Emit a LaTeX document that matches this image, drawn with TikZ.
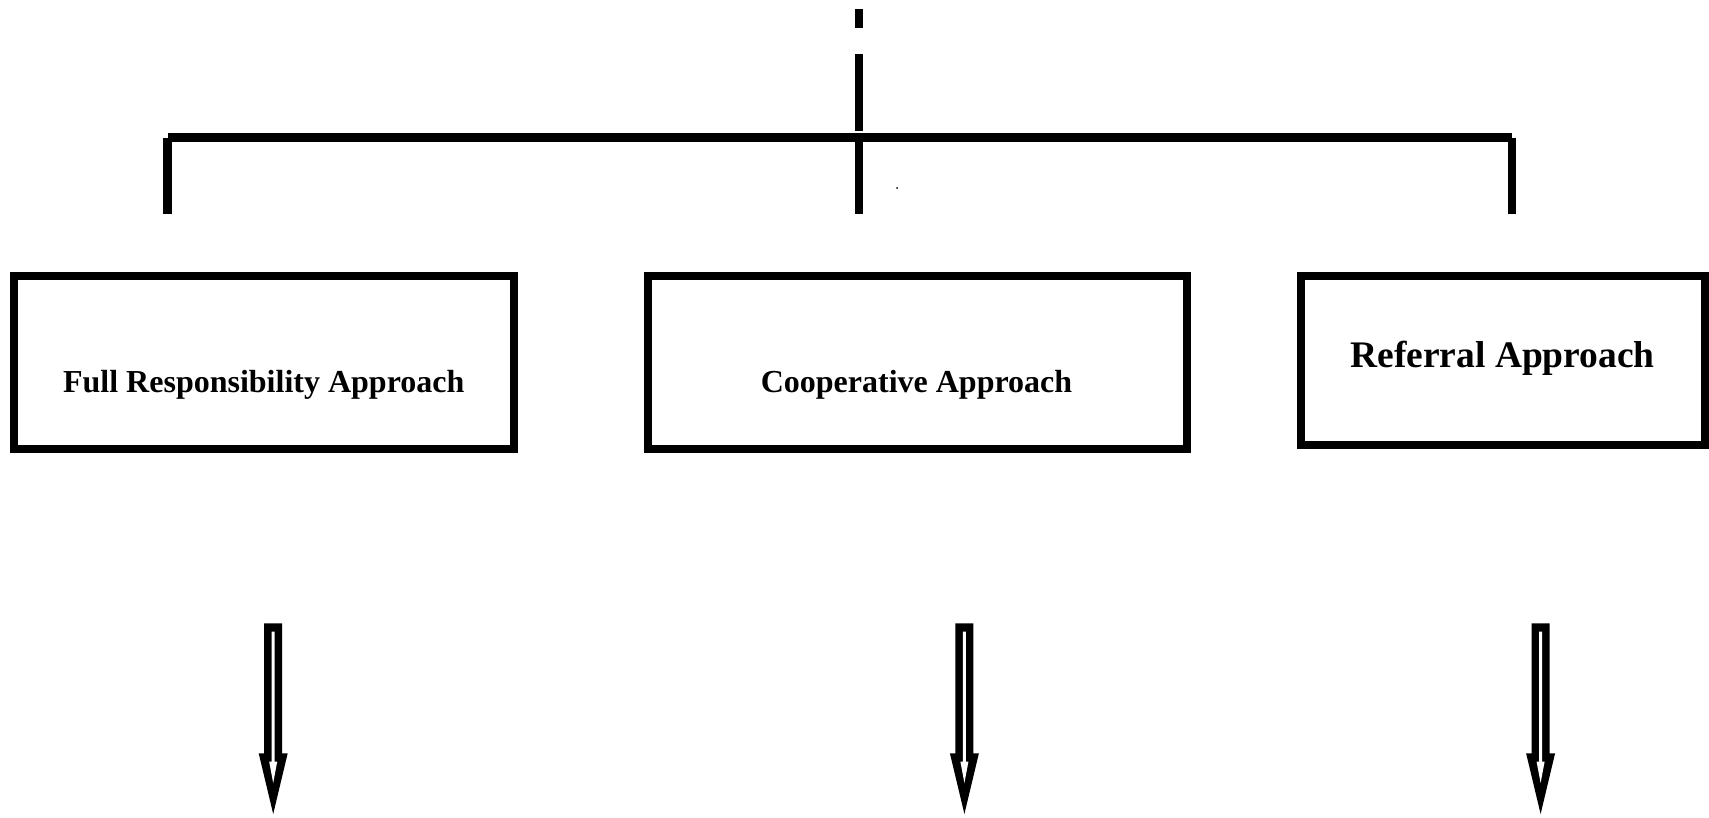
\documentclass[tikz,border=0pt]{standalone}
\usepackage{fontspec}
\setmainfont{Liberation Serif}
\begin{document}
\begin{tikzpicture}[x=1pt,y=-1pt,
  ln/.style={line width=8.4pt,line cap=butt},
  box/.style={draw,line width=8pt,rectangle,inner sep=0pt,outer sep=0pt},
  lbl/.style={inner sep=0pt,font=\bfseries\fontsize{32}{36}\selectfont,anchor=base},
  biglbl/.style={lbl,font=\bfseries\fontsize{37.5}{42}\selectfont},
  hollowarrow/.pic={
    \fill[black] (-9,0)--(9,0)--(9,130)--(14.5,130)--(0,190.7)--(-14.5,130)--(-9,130)--cycle;
    \fill[white] (-1.5,8.4)--(1.5,8.4)--(1.5,138.4)--(4,138.4)--(0,159.7)--(-4,138.4)--(-1.5,138.4)--cycle;
  }]
\useasboundingbox (0,0) rectangle (1709,817);
% top stem
\coordinate (s1a) at (859,9);
\coordinate (s1b) at (859,28.3);
\coordinate (s2a) at (859,54);
\coordinate (s2b) at (859,130.7);
\coordinate (hl) at (167.5,137.5);
\coordinate (hm) at (859,137.5);
\coordinate (hr) at (1512,137.5);
\coordinate (vl) at (167.5,214.3);
\coordinate (vm) at (859,214.3);
\coordinate (vr) at (1512,214.3);
\draw[ln] (s1a) -- (s1b);
\draw[ln] (s2a) -- (s2b);
\draw[ln] (hl) -- (hr);
\draw[ln] (hl) -- (vl);
\draw[ln] (hm) -- (vm);
\draw[ln] (hr) -- (vr);
\fill (897,188) circle (1pt);
% boxes
\node[box,minimum width=500pt,minimum height=173pt] (b1) at (263.5,362.5) {};
\node[box,minimum width=539pt,minimum height=173pt] (b2) at (917,362.5) {};
\node[box,minimum width=404.5pt,minimum height=168.5pt] (b3) at (1502.75,360.25) {};
\node[lbl] (t1) at (263.75,392) {Full Responsibility Approach};
\node[lbl] (t2) at (916.5,392) {Cooperative Approach};
\node[biglbl] (t3) at (1502.5,367) {Referral Approach};
% arrows
\coordinate (a1) at (273.2,623.3);
\coordinate (a2) at (964.4,623.3);
\coordinate (a3) at (1540.6,623.3);
\pic at (a1) {hollowarrow};
\pic at (a2) {hollowarrow};
\pic at (a3) {hollowarrow};
\end{tikzpicture}
\end{document}
